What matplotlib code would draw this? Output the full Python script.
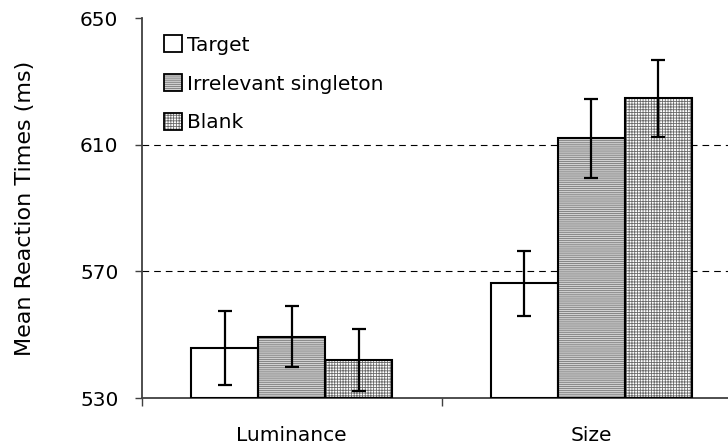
import matplotlib
matplotlib.use("Agg")
import matplotlib.pyplot as plt
import numpy as np
from matplotlib.patches import Patch

plt.rcParams['font.family'] = ['DejaVu Sans']
plt.rcParams['hatch.linewidth'] = 0.6

categories = ["Luminance", "Size"]
series = ["Target", "Irrelevant singleton", "Blank"]
means = {
    "Target": [545.8, 566.2],
    "Irrelevant singleton": [549.3, 612.0],
    "Blank": [542.0, 624.6],
}
errors = {
    "Target": [11.6, 10.3],
    "Irrelevant singleton": [9.6, 12.4],
    "Blank": [9.8, 12.2],
}
yticks = [530, 570, 610, 650]

styles = {
    "Target": dict(face="white", hatch=None, hcol="white"),
    "Irrelevant singleton": dict(face="#d2d2d2", hatch="--------", hcol="#7a7a7a"),
    "Blank": dict(face="white", hatch="++++++", hcol="#6a6a6a"),
}

fig = plt.figure(figsize=(7.28, 4.48), dpi=100)
ax = fig.add_axes([142/728, 50/448, 599/728, 380/448])

x = np.arange(len(categories)) + 0.5
w = 0.224
handles = []
for i, s in enumerate(series):
    pos = x + (i - 1) * w
    st = styles[s]
    vals = np.array(means[s])
    ax.bar(pos, vals - 530, bottom=530, width=w, color=st["face"], hatch=st["hatch"],
           edgecolor=st["hcol"], linewidth=0, zorder=2)
    ax.bar(pos, vals - 530, bottom=530, width=w, facecolor="none",
           edgecolor="black", linewidth=1.5, zorder=3)
    ax.errorbar(pos, vals, yerr=errors[s], fmt="none", ecolor="black",
                elinewidth=1.6, capsize=4.8, capthick=1.6, zorder=4)
    h1 = Patch(facecolor=st["face"], hatch=st["hatch"], edgecolor=st["hcol"], linewidth=0)
    h2 = Patch(facecolor="none", edgecolor="black", linewidth=1.3)
    handles.append((h1, h2))

ax.set_xlim(0, 2)
ax.set_ylim(530, 650)
ax.set_yticks(yticks)
ax.set_yticklabels([str(t) for t in yticks])
for g in [570, 610]:
    ax.axhline(g, color="black", linewidth=0.8, linestyle=(0, (6, 4.5)), zorder=1)

ax.set_xticks(x)
ax.set_xticklabels(categories)
ax.set_xticks([0, 1, 2], minor=True)
ax.tick_params(axis="x", which="major", length=0, pad=20, labelsize=14.5)
ax.tick_params(axis="x", which="minor", length=6, width=1, color="#404040", direction="out")
ax.tick_params(axis="y", length=5, width=1, color="#404040", direction="out", pad=12, labelsize=14.5)

for side in ["top", "right"]:
    ax.spines[side].set_visible(False)
for side in ["left", "bottom"]:
    ax.spines[side].set_color("#404040")
    ax.spines[side].set_linewidth(1.3)

ax.set_ylabel("Mean Reaction Times (ms)", fontsize=16, labelpad=32)

leg = ax.legend(handles, series, loc="upper left", bbox_to_anchor=(0.037, 0.954),
                frameon=False, fontsize=14.5, handlelength=0.9, handleheight=0.9,
                handletextpad=0.25, labelspacing=0.97, borderaxespad=0, borderpad=0)

fig.savefig("out.png", dpi=100)
